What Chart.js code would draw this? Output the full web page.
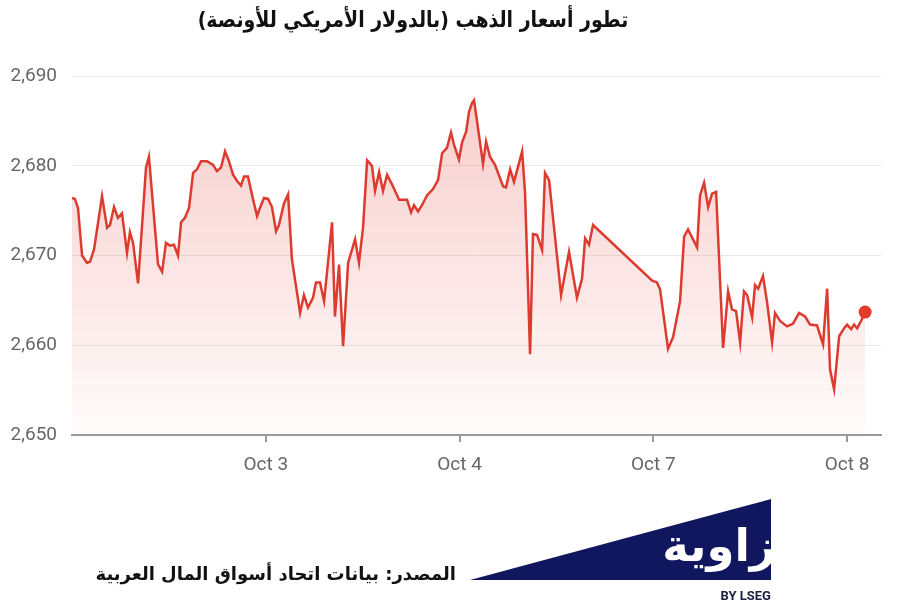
<!DOCTYPE html>
<html lang="ar">
<head>
<meta charset="utf-8">
<script src="https://cdn.jsdelivr.net/npm/chart.js@4.4.1/dist/chart.umd.min.js"></script>
<style>
    body { margin: 0; background: #fff; width: 900px; height: 608px; overflow: hidden; position: relative; }
    #goldChart { position: absolute; left: 0; top: 0; }
    .title {
        position: absolute; top: 7px; left: 0; width: 826px; text-align: center;
        font-family: "DejaVu Sans", sans-serif; font-weight: bold; font-size: 22px; color: #111;
        transform: scaleX(0.86); transform-origin: 413px 0;
    }
    .source {
        position: absolute; top: 563px; right: 444px; white-space: nowrap;
        font-family: "DejaVu Sans", sans-serif; font-weight: bold; font-size: 18px; color: #111;
    }
    #logo { position: absolute; left: 0; top: 0; }
</style>
</head>
<body>
<canvas id="goldChart" width="900" height="608"></canvas>
<div class="title" dir="rtl">تطور أسعار الذهب (بالدولار الأمريكي للأونصة)</div>
<div class="source" dir="rtl">المصدر: بيانات اتحاد أسواق المال العربية</div>
<svg id="logo" width="900" height="608">
    <defs>
        <clipPath id="logoClip"><rect x="460" y="490" width="311" height="100"></rect></clipPath>
    </defs>
    <polygon points="470,580 771,499 771,580" fill="#10175e"></polygon>
    <text x="719" y="561" text-anchor="middle" direction="rtl" fill="#fff" clip-path="url(#logoClip)"
          font-family="DejaVu Sans, sans-serif" font-weight="bold" font-size="45">زاوية</text>
    <text x="771" y="600" text-anchor="end" fill="#1a1f40"
          font-family="Roboto, sans-serif" font-weight="bold" font-size="13">BY LSEG</text>
</svg>
<script>
// Gold price, Oct 2 - Oct 8 (x = trading days from start, Oct 3 = 1)
const times = [
    0.000, 0.015, 0.031, 0.052, 0.077, 0.093, 0.114, 0.155, 0.181, 0.196,
    0.217, 0.237, 0.258, 0.284, 0.299, 0.315, 0.341, 0.382, 0.397, 0.444,
    0.465, 0.485, 0.506, 0.526, 0.547, 0.563, 0.583, 0.604, 0.625, 0.645,
    0.666, 0.697, 0.728, 0.748, 0.769, 0.790, 0.810, 0.831, 0.852, 0.872,
    0.888, 0.908, 0.934, 0.955, 0.970, 0.991, 1.012, 1.032, 1.053, 1.068,
    1.094, 1.115, 1.135, 1.177, 1.197, 1.218, 1.244, 1.259, 1.280, 1.301,
    1.342, 1.357, 1.378, 1.399, 1.425, 1.461, 1.481, 1.502, 1.523, 1.548,
    1.564, 1.585, 1.605, 1.626, 1.652, 1.688, 1.729, 1.750, 1.765, 1.786,
    1.806, 1.832, 1.863, 1.889, 1.910, 1.935, 1.956, 1.972, 1.997, 2.013,
    2.034, 2.049, 2.065, 2.075, 2.121, 2.137, 2.157, 2.183, 2.225, 2.240,
    2.261, 2.281, 2.323, 2.338, 2.364, 2.379, 2.400, 2.426, 2.441, 2.462,
    2.524, 2.565, 2.606, 2.632, 2.648, 2.668, 2.689, 2.994, 3.019, 3.035,
    3.076, 3.102, 3.138, 3.159, 3.179, 3.226, 3.241, 3.262, 3.283, 3.303,
    3.324, 3.360, 3.386, 3.406, 3.427, 3.448, 3.468, 3.484, 3.510, 3.525,
    3.541, 3.566, 3.587, 3.613, 3.628, 3.654, 3.690, 3.721, 3.752, 3.783,
    3.809, 3.845, 3.876, 3.897, 3.912, 3.933, 3.959, 3.985, 4.000, 4.021,
    4.036, 4.052, 4.072, 4.093
];
const prices = [
    2676.4, 2676.3, 2675.3, 2670.0, 2669.2, 2669.3, 2670.7, 2676.6, 2673.1, 2673.4,
    2675.4, 2674.2, 2674.7, 2670.3, 2672.6, 2671.4, 2666.9, 2679.8, 2681.0, 2669.0,
    2668.2, 2671.4, 2671.1, 2671.2, 2670.0, 2673.7, 2674.2, 2675.3, 2679.2, 2679.6,
    2680.5, 2680.5, 2680.1, 2679.4, 2679.8, 2681.6, 2680.5, 2679.0, 2678.3, 2677.8,
    2678.8, 2678.8, 2676.3, 2674.4, 2675.3, 2676.4, 2676.3, 2675.4, 2672.7, 2673.4,
    2675.8, 2676.8, 2669.6, 2663.6, 2665.6, 2664.2, 2665.3, 2667.0, 2667.0, 2664.9,
    2673.7, 2663.2, 2669.0, 2659.9, 2669.2, 2671.8, 2669.2, 2673.1, 2680.6, 2680.0,
    2677.2, 2679.3, 2677.2, 2679.0, 2677.9, 2676.2, 2676.2, 2674.8, 2675.6, 2674.9,
    2675.6, 2676.7, 2677.4, 2678.4, 2681.4, 2682.0, 2683.7, 2682.3, 2680.7, 2682.6,
    2683.8, 2686.0, 2687.0, 2687.3, 2680.2, 2682.7, 2681.0, 2680.1, 2677.7, 2677.6,
    2679.6, 2678.2, 2681.6, 2677.0, 2659.0, 2672.4, 2672.3, 2670.6, 2679.2, 2678.4,
    2665.6, 2670.4, 2665.3, 2667.4, 2671.9, 2671.2, 2673.4, 2667.2, 2667.0, 2666.2,
    2659.6, 2660.9, 2664.9, 2672.1, 2672.9, 2670.9, 2676.7, 2678.1, 2675.4, 2676.9,
    2677.1, 2659.7, 2666.0, 2664.0, 2663.8, 2660.3, 2666.0, 2665.6, 2663.1, 2666.7,
    2666.3, 2667.7, 2664.8, 2660.3, 2663.6, 2662.7, 2662.1, 2662.4, 2663.6, 2663.2,
    2662.3, 2662.2, 2660.1, 2666.3, 2657.3, 2655.1, 2661.0, 2661.9, 2662.3, 2661.8,
    2662.3, 2661.9, 2662.7, 2663.7
];
const dayTicks = [1, 2, 3, 4];
const dayLabels = ['Oct 3', 'Oct 4', 'Oct 7', 'Oct 8'];
const priceTicks = [2650, 2660, 2670, 2680, 2690];

const points = times.map((t, i) => ({ x: t, y: prices[i] }));
const lastIndex = points.length - 1;

const ctx = document.getElementById('goldChart').getContext('2d');
const goldChart = new Chart(ctx, {
    type: 'line',
    data: {
        datasets: [{
            data: points,
            borderColor: '#dd3b2f',
            borderWidth: 2.5,
            tension: 0,
            fill: 'start',
            backgroundColor: function(context) {
                const area = context.chart.chartArea;
                if (!area) return 'rgba(225, 70, 60, 0.12)';
                const g = context.chart.ctx.createLinearGradient(0, area.top, 0, area.bottom);
                g.addColorStop(0, 'rgba(225, 70, 60, 0.28)');
                g.addColorStop(1, 'rgba(225, 70, 60, 0.02)');
                return g;
            },
            pointRadius: c => c.dataIndex === lastIndex ? 6.5 : 0,
            pointBackgroundColor: '#e53a2e',
            pointBorderWidth: 0,
            pointHoverRadius: 0
        }]
    },
    options: {
        responsive: false,
        animation: false,
        layout: { padding: { top: 76, right: 19, left: 0, bottom: 0 } },
        plugins: {
            legend: { display: false },
            tooltip: { enabled: false }
        },
        scales: {
            x: {
                type: 'linear',
                min: 0,
                max: 4.175,
                afterBuildTicks: axis => { axis.ticks = dayTicks.map(v => ({ value: v })); },
                afterFit: axis => { axis.height = 173; },
                ticks: {
                    callback: v => dayLabels[dayTicks.indexOf(v)] || '',
                    color: '#666',
                    font: { family: 'Roboto', size: 19 },
                    padding: 12,
                    maxRotation: 0
                },
                grid: { drawOnChartArea: false, drawTicks: true, tickLength: 7, color: '#9a9a9a', lineWidth: 2 },
                border: { color: '#9a9a9a', width: 2 }
            },
            y: {
                min: 2650,
                max: 2690,
                afterBuildTicks: axis => { axis.ticks = priceTicks.map(v => ({ value: v })); },
                afterFit: axis => { axis.width = 72; },
                ticks: {
                    callback: v => v.toLocaleString('en-US'),
                    color: '#666',
                    font: { family: 'Roboto', size: 19 },
                    padding: 15
                },
                grid: { color: '#e9e9e9', lineWidth: 1, drawTicks: false },
                border: { display: false }
            }
        }
    }
});
</script>
</body>
</html>
